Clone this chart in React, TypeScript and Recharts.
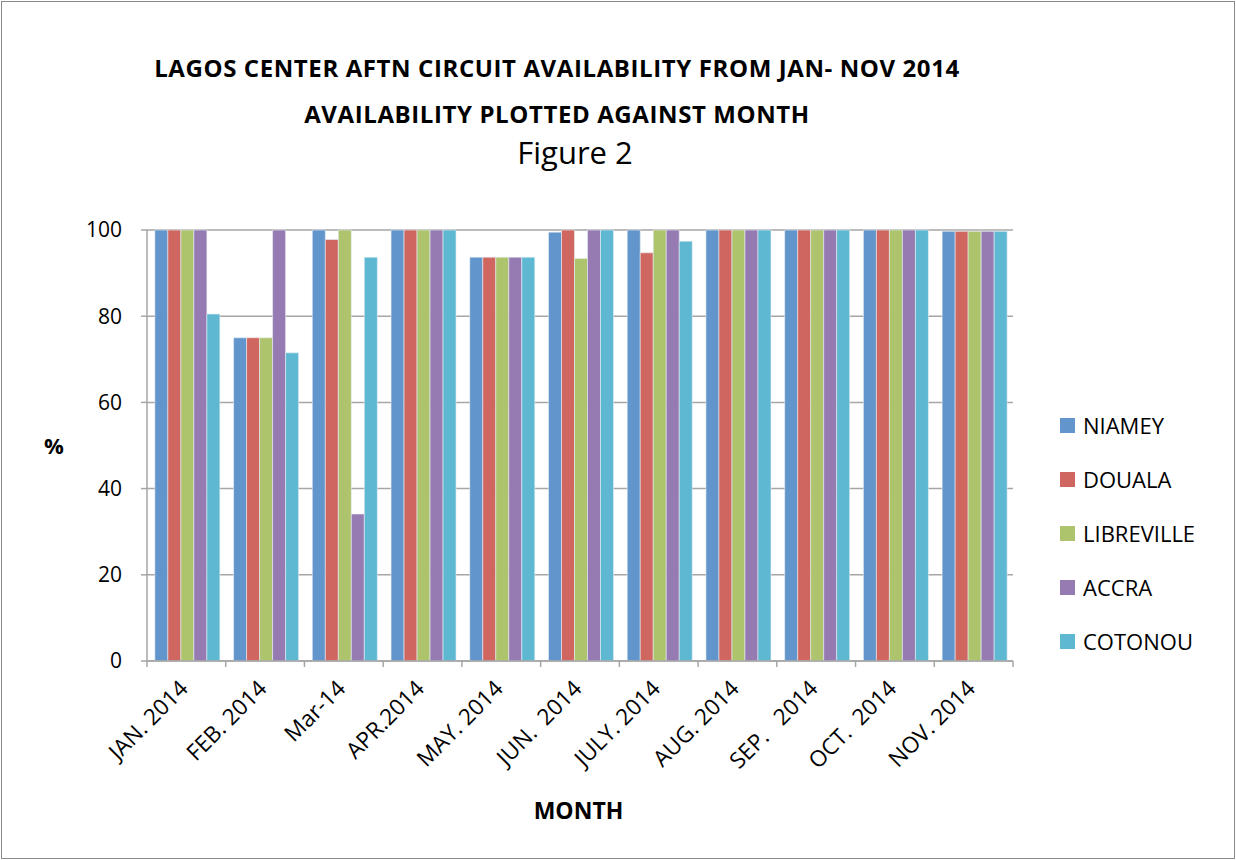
import React from "react";
import { BarChart, Bar, XAxis, YAxis, CartesianGrid } from "recharts";

const months = ["JAN. 2014", "FEB. 2014", "Mar-14", "APR.2014", "MAY. 2014", "JUN.  2014", "JULY. 2014", "AUG. 2014", "SEP.   2014", "OCT.  2014", "NOV. 2014"];
const niamey = [100, 75, 100, 100, 93.7, 99.5, 100, 100, 100, 100, 99.7];
const douala = [100, 75, 97.8, 100, 93.7, 100, 94.7, 100, 100, 100, 99.7];
const libreville = [100, 75, 100, 100, 93.7, 93.4, 100, 100, 100, 100, 99.7];
const accra = [100, 100, 34.1, 100, 93.7, 100, 100, 100, 100, 100, 99.7];
const cotonou = [80.5, 71.5, 93.7, 100, 93.7, 100, 97.4, 100, 100, 100, 99.7];
const yTicks = [0, 20, 40, 60, 80, 100];

const seriesNames = ["NIAMEY", "DOUALA", "LIBREVILLE", "ACCRA", "COTONOU"];
const colors = ["#6195CB", "#CF6660", "#ADC46D", "#957BB2", "#5EB8D2"];
const keys = ["niamey", "douala", "libreville", "accra", "cotonou"];

const data = months.map((m, i) => ({
  month: m,
  niamey: niamey[i],
  douala: douala[i],
  libreville: libreville[i],
  accra: accra[i],
  cotonou: cotonou[i],
}));

const FONT = "'Open Sans', Calibri, sans-serif";
const BAND = 866 / 11;

const XTick = (props: any) => {
  const { x, y, payload, index } = props;
  return (
    <g>
      <line x1={x - BAND / 2} y1={y} x2={x - BAND / 2} y2={y + 6} stroke="#a6a6a6" strokeWidth={1.5} />
      {index === months.length - 1 && (
        <line x1={x + BAND / 2} y1={y} x2={x + BAND / 2} y2={y + 6} stroke="#a6a6a6" strokeWidth={1.5} />
      )}
      <text
        x={x + 3}
        y={y + 29}
        textAnchor="end"
        transform={`rotate(-45 ${x + 3} ${y + 29})`}
        fontSize={22.5}
        fontFamily={FONT}
        fill="#000"
        style={{ whiteSpace: "pre" }}
      >
        {payload.value}
      </text>
    </g>
  );
};

const LegendBox = () => (
  <div style={{ position: "absolute", left: 1060, top: 398, fontFamily: FONT, fontSize: 22, color: "#000" }}>
    {seriesNames.map((n, i) => (
      <div key={n} style={{ display: "flex", alignItems: "center", height: 54 }}>
        <span style={{ display: "inline-block", width: 15, height: 15, background: colors[i], marginRight: 8 }} />
        <span>{n}</span>
      </div>
    ))}
  </div>
);

export default function App() {
  return (
    <div style={{ position: "absolute", left: 0, top: 0, width: 1236, height: 860, background: "#fff" }}>
      <div style={{ position: "absolute", left: 1, top: 1, width: 1232, height: 856, border: "1px solid #8a8a8a" }} />
      <div style={{ position: "absolute", left: 0, top: 0 }}>
        <BarChart
          width={1236}
          height={860}
          data={data}
          margin={{ top: 230, right: 223, bottom: 0, left: 77 }}
          barCategoryGap="10%"
          barGap={0}
        >
          <CartesianGrid vertical={false} stroke="#a6a6a6" strokeWidth={1.5} />
          <XAxis
            dataKey="month"
            tickLine={false}
            tickSize={0}
            tickMargin={0}
            axisLine={{ stroke: "#a6a6a6", strokeWidth: 1.5 }}
            tick={<XTick />}
            interval={0}
            height={199}
          />
          <YAxis
            width={70}
            domain={[0, 100]}
            ticks={yTicks}
            tickSize={6}
            tickMargin={19}
            tickLine={{ stroke: "#a6a6a6", strokeWidth: 1.5 }}
            axisLine={{ stroke: "#a6a6a6", strokeWidth: 1.5 }}
            tick={{ fontSize: 21, fontFamily: FONT, fill: "#000" }}
          />
          {keys.map((k, i) => (
            <Bar key={k} dataKey={k} name={seriesNames[i]} fill={colors[i]} stroke="#e8eef5" strokeWidth={0.6} isAnimationActive={false} />
          ))}
        </BarChart>
      </div>
      <div style={{ position: "absolute", left: 0, width: 1114, top: 51, textAlign: "center", fontFamily: FONT, fontWeight: 700, fontSize: 24, letterSpacing: 0.6 }}>
        LAGOS CENTER AFTN CIRCUIT AVAILABILITY FROM JAN- NOV 2014
      </div>
      <div style={{ position: "absolute", left: 0, width: 1114, top: 97, textAlign: "center", fontFamily: FONT, fontWeight: 700, fontSize: 24, letterSpacing: 0.6 }}>
        AVAILABILITY PLOTTED AGAINST MONTH
      </div>
      <div style={{ position: "absolute", left: 0, width: 1150, top: 131, textAlign: "center", fontFamily: FONT, fontSize: 31 }}>
        Figure 2
      </div>
      <div style={{ position: "absolute", left: 44, top: 430, fontFamily: FONT, fontWeight: 700, fontSize: 22 }}>%</div>
      <div style={{ position: "absolute", left: 0, width: 1157, top: 794, textAlign: "center", fontFamily: FONT, fontWeight: 700, fontSize: 23 }}>
        MONTH
      </div>
      <LegendBox />
    </div>
  );
}
